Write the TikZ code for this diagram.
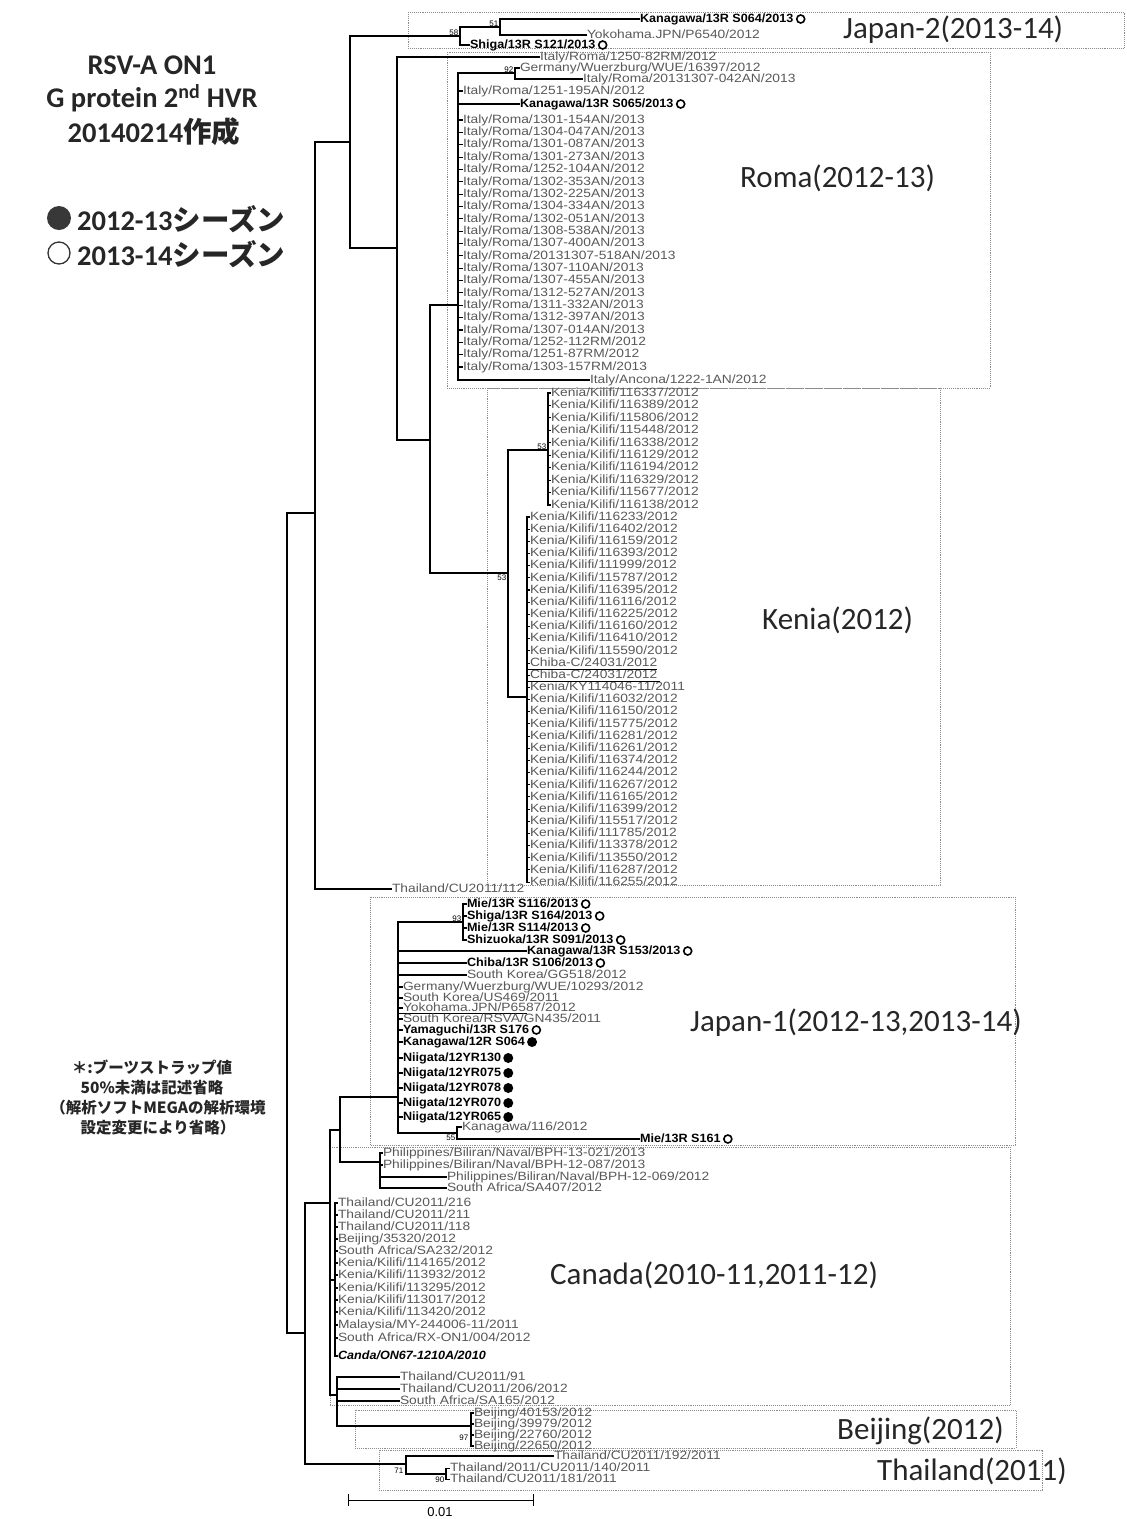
\documentclass[tikz,border=0pt]{standalone}
\usepackage{fontspec}
\setmainfont{Liberation Sans}
\newfontfamily\calfont{Carlito}
\newfontfamily\jpfont{Noto Sans CJK JP}
\newfontfamily\leaffont[FakeStretch=1.15]{Liberation Sans}
\newfontfamily\leafbfont[FakeStretch=1.05]{Liberation Sans}
\usetikzlibrary{positioning}
\tikzset{
  tree/.style={line width=1.1pt, black},
  leaf/.style={anchor=west, inner sep=0pt, outer sep=0pt, text height=8pt, text depth=1.5pt, font=\leaffont\fontsize{12}{12}\selectfont, text=black!65},
  leafb/.style={leaf, text=black, font=\leafbfont\bfseries\fontsize{12}{12}\selectfont},
  leafbi/.style={leaf, text=black, font=\leafbfont\bfseries\itshape\fontsize{12}{12}\selectfont},
  oc/.style={circle, draw=black, line width=1.6pt, minimum size=8pt, inner sep=0pt},
  fc/.style={circle, fill=black, minimum size=10pt, inner sep=0pt},
  clade/.style={draw=black!45, line width=0.9pt, densely dotted},
  cladelbl/.style={anchor=west, inner sep=0pt, font=\calfont\fontsize{31}{33}\selectfont, text=black!85},
  boot/.style={inner sep=0.5pt, font=\fontsize{8}{9}\selectfont, text=black},
  ttl/.style={inner sep=0pt, font=\calfont\bfseries\fontsize{28.5}{30}\selectfont, text=black!85},
  note/.style={inner sep=0pt, font=\jpfont\bfseries\fontsize{15.5}{17}\selectfont, text=black!85},
}
\newcommand\br[6][leaf]{\node[#1] (#3) at (#4,#5) {#6}; \draw[tree] (#2) |- (#3.west);}
\newcommand\inn[4]{\coordinate (#2) at (#3,#4); \draw[tree] (#1) |- (#2);}
\newcommand\mO[1]{\node[oc, right=2.5pt of #1] (#1o) {};}
\newcommand\mF[1]{\node[fc, right=2pt of #1] (#1f) {};}
\begin{document}
\begin{tikzpicture}[x=1pt,y=-1pt]
\useasboundingbox[fill=white] (0,0) rectangle (1127,1519);
% ---- clade boxes
\draw[clade] (408,12) rectangle (1124,48);
\draw[clade] (447,52) rectangle (990,388);
\draw[clade] (487,388) rectangle (940,885);
\draw[clade] (370,897) rectangle (1015,1145);
\draw[clade] (330,1147) rectangle (1010,1405);
\draw[clade] (355,1410) rectangle (1016,1448);
\draw[clade] (379,1450) rectangle (1042,1490);
\node[cladelbl] (lJ2) at (843,30) {Japan-2(2013-14)};
\node[cladelbl] (lRo) at (740,178) {Roma(2012-13)};
\node[cladelbl] (lKe) at (762,620) {Kenia(2012)};
\node[cladelbl] (lJ1) at (690,1023) {Japan-1(2012-13,2013-14)};
\node[cladelbl] (lCa) at (550,1275) {Canada(2010-11,2011-12)};
\node[cladelbl] (lBe) at (837,1431) {Beijing(2012)};
\node[cladelbl] (lTh) at (877,1471) {Thailand(2011)};
% ---- title and legend
\node[ttl] (t1) at (152,65) {RSV-A ON1};
\node[ttl] (t2) at (152,98) {G protein 2\textsuperscript{nd} HVR};
\node[ttl] (t3) at (154,132) {20140214{\jpfont\bfseries 作成}};
\node[circle, fill=black!78, minimum size=24pt, inner sep=0pt] (lg1) at (59,218) {};
\node[ttl, anchor=west] (lg1t) at (77,219) {2012-13{\jpfont シーズン}};
\node[circle, draw=black!80, line width=1.3pt, minimum size=22pt, inner sep=0pt] (lg2) at (59,253) {};
\node[ttl, anchor=west] (lg2t) at (77,254) {2013-14{\jpfont シーズン}};
% ---- note
\node[note] (n1) at (152,1068) {＊:ブーツストラップ値};
\node[note] (n2) at (152,1088) {50\%未満は記述省略};
\node[note] (n3) at (158,1108) {（解析ソフトMEGAの解析環境};
\node[note] (n4) at (158,1128) {設定変更により省略）};
% ---- tree backbone
\coordinate (root) at (287,923);
\inn{root}{up}{315}{513}
\inn{root}{lowr}{305}{1333}
\inn{up}{nA}{350}{142}
\br{up}{t112}{392}{889}{Thailand/CU2011/112}
% Japan-2
\inn{nA}{j2}{460}{36}
\inn{j2}{j2b}{500}{27}
\br[leafb]{j2b}{k064}{640}{19}{Kanagawa/13R S064/2013}\mO{k064}
\br{j2b}{y6540}{587}{35}{Yokohama.JPN/P6540/2012}
\br[leafb]{j2}{s121}{470}{45}{Shiga/13R S121/2013}\mO{s121}
\node[boot, above left=0pt and 1pt of j2] (b58) {58};
\node[boot, above left=0pt and 1pt of j2b] (b51) {51};
% Roma
\inn{nA}{nB}{397}{248}
\br{nB}{r8212}{540}{57}{Italy/Roma/1250-82RM/2012}
\inn{nB}{nC}{430}{440}
\inn{nC}{roma}{458}{305}
\inn{roma}{r92}{515}{73}
\node[boot, above left=0pt and 1pt of r92] (b92) {92};
\br{r92}{ger}{520}{68}{Germany/Wuerzburg/WUE/16397/2012}
\br{r92}{r042}{583}{79}{Italy/Roma/20131307-042AN/2013}
\br{roma}{r195}{463}{91}{Italy/Roma/1251-195AN/2012}
\br[leafb]{roma}{k065}{520}{104}{Kanagawa/13R S065/2013}\mO{k065}
\foreach \t [count=\i from 0] in {1301-154AN/2013,1304-047AN/2013,1301-087AN/2013,1301-273AN/2013,1252-104AN/2012,1302-353AN/2013,1302-225AN/2013,1304-334AN/2013,1302-051AN/2013,1308-538AN/2013,1307-400AN/2013,20131307-518AN/2013,1307-110AN/2013,1307-455AN/2013,1312-527AN/2013,1311-332AN/2013,1312-397AN/2013,1307-014AN/2013,1252-112RM/2012,1251-87RM/2012,1303-157RM/2013}{
  \pgfmathsetmacro\yy{120+\i*12.35}
  \br{roma}{ro\i}{463}{\yy}{Italy/Roma/\t}
}
\br{roma}{anc}{590}{380}{Italy/Ancona/1222-1AN/2012}
% Kenia
\inn{nC}{ken}{508}{573}
\node[boot, below left=1pt and 1pt of ken] (b53a) {53};
\inn{ken}{k53}{548}{450}
\node[boot, above left=0pt and 1pt of k53] (b53b) {53};
\foreach \t [count=\i from 0] in {116337,116389,115806,115448,116338,116129,116194,116329,115677,116138}{
  \pgfmathsetmacro\yy{393+\i*12.44}
  \br{k53}{ku\i}{551}{\yy}{Kenia/Kilifi/\t/2012}
}
\inn{ken}{klow}{527}{697}
\foreach \t [count=\i from 0] in {Kenia/Kilifi/116233/2012,Kenia/Kilifi/116402/2012,Kenia/Kilifi/116159/2012,Kenia/Kilifi/116393/2012,Kenia/Kilifi/111999/2012,Kenia/Kilifi/115787/2012,Kenia/Kilifi/116395/2012,Kenia/Kilifi/116116/2012,Kenia/Kilifi/116225/2012,Kenia/Kilifi/116160/2012,Kenia/Kilifi/116410/2012,Kenia/Kilifi/115590/2012,Chiba-C/24031/2012,Chiba-C/24031/2012,Kenia/KY114046-11/2011,Kenia/Kilifi/116032/2012,Kenia/Kilifi/116150/2012,Kenia/Kilifi/115775/2012,Kenia/Kilifi/116281/2012,Kenia/Kilifi/116261/2012,Kenia/Kilifi/116374/2012,Kenia/Kilifi/116244/2012,Kenia/Kilifi/116267/2012,Kenia/Kilifi/116165/2012,Kenia/Kilifi/116399/2012,Kenia/Kilifi/115517/2012,Kenia/Kilifi/111785/2012,Kenia/Kilifi/113378/2012,Kenia/Kilifi/113550/2012,Kenia/Kilifi/116287/2012,Kenia/Kilifi/116255/2012}{
  \pgfmathsetmacro\yy{517+\i*12.17}
  \br{klow}{kl\i}{530}{\yy}{\t}
}
\draw[tree] (klow |- 0,669.5) -- (657,669.5);
\draw[tree] (klow |- 0,681.5) -- (660,681.5);
% lower half
\inn{lowr}{C}{330}{1203}
\inn{C}{P}{340}{1130}
\inn{P}{J1}{398}{1097}
\inn{J1}{j93}{463}{922}
\node[boot, above left=0pt and 1pt of j93] (b93) {93};
\br[leafb]{j93}{m116}{467}{904}{Mie/13R S116/2013}\mO{m116}
\br[leafb]{j93}{s164}{467}{916}{Shiga/13R S164/2013}\mO{s164}
\br[leafb]{j93}{m114}{467}{928}{Mie/13R S114/2013}\mO{m114}
\br[leafb]{j93}{z091}{467}{940}{Shizuoka/13R S091/2013}\mO{z091}
\br[leafb]{J1}{k153}{527}{951}{Kanagawa/13R S153/2013}\mO{k153}
\br[leafb]{J1}{c106}{467}{963}{Chiba/13R S106/2013}\mO{c106}
\br{J1}{gg518}{467}{975}{South Korea/GG518/2012}
\br{J1}{w10293}{403}{987}{Germany/Wuerzburg/WUE/10293/2012}
\br{J1}{us469}{403}{998}{South Korea/US469/2011}
\br{J1}{p6587}{403}{1008}{Yokohama.JPN/P6587/2012}
\draw[tree] (J1 |- 0,1013.5) -- (527,1013.5);
\br{J1}{gn435}{403}{1019}{South Korea/RSVA/GN435/2011}
\br[leafb]{J1}{y176}{403}{1030}{Yamaguchi/13R S176}\mO{y176}
\br[leafb]{J1}{k12}{403}{1042}{Kanagawa/12R S064}\mF{k12}
\br[leafb]{J1}{ni130}{403}{1058}{Niigata/12YR130}\mF{ni130}
\br[leafb]{J1}{ni075}{403}{1073}{Niigata/12YR075}\mF{ni075}
\br[leafb]{J1}{ni078}{403}{1088}{Niigata/12YR078}\mF{ni078}
\br[leafb]{J1}{ni070}{403}{1103}{Niigata/12YR070}\mF{ni070}
\br[leafb]{J1}{ni065}{403}{1117}{Niigata/12YR065}\mF{ni065}
\inn{J1}{jk}{457}{1133}
\node[boot, below left=1pt and 1pt of jk] (b55) {55};
\br{jk}{k116}{462}{1127}{Kanagawa/116/2012}
\br[leafb]{jk}{m161}{640}{1139}{Mie/13R S161}\mO{m161}
% Philippines
\inn{P}{ph}{380}{1162}
\br{ph}{ph1}{383}{1153}{Philippines/Biliran/Naval/BPH-13-021/2013}
\br{ph}{ph2}{383}{1165}{Philippines/Biliran/Naval/BPH-12-087/2013}
\br{ph}{ph3}{447}{1177}{Philippines/Biliran/Naval/BPH-12-069/2012}
\br{ph}{sa407}{447}{1188}{South Africa/SA407/2012}
% Canada
\inn{C}{S}{335}{1280}
\br{S}{c1}{338}{1203}{Thailand/CU2011/216}
\br{S}{c2}{338}{1215}{Thailand/CU2011/211}
\br{S}{c3}{338}{1227}{Thailand/CU2011/118}
\br{S}{c4}{338}{1239}{Beijing/35320/2012}
\br{S}{c5}{338}{1251}{South Africa/SA232/2012}
\br{S}{c6}{338}{1263}{Kenia/Kilifi/114165/2012}
\br{S}{c7}{338}{1275}{Kenia/Kilifi/113932/2012}
\br{S}{c8}{338}{1288}{Kenia/Kilifi/113295/2012}
\br{S}{c9}{338}{1300}{Kenia/Kilifi/113017/2012}
\br{S}{c10}{338}{1312}{Kenia/Kilifi/113420/2012}
\br{S}{c11}{338}{1325}{Malaysia/MY-244006-11/2011}
\br{S}{c12}{338}{1338}{South Africa/RX-ON1/004/2012}
\br[leafbi]{S}{c13}{338}{1356}{Canda/ON67-1210A/2010}
\inn{C}{T}{337}{1395}
\br{T}{c14}{400}{1377}{Thailand/CU2011/91}
\br{T}{c15}{400}{1389}{Thailand/CU2011/206/2012}
\br{T}{c16}{400}{1401}{South Africa/SA165/2012}
% Beijing
\inn{T}{bj}{471}{1426}
\node[boot, below left=8pt and 2pt of bj] (b97) {97};
\br{bj}{bj1}{474}{1413}{Beijing/40153/2012}
\br{bj}{bj2}{474}{1424}{Beijing/39979/2012}
\br{bj}{bj3}{474}{1435}{Beijing/22760/2012}
\br{bj}{bj4}{474}{1446}{Beijing/22650/2012}
% Thailand
\inn{lowr}{th}{406}{1464}
\node[boot, below left=3pt and 2pt of th] (b71) {71};
\br{th}{t192}{554}{1456}{Thailand/CU2011/192/2011}
\inn{th}{th90}{446}{1474}
\node[boot, below left=2pt and 1pt of th90] (b90) {90};
\br{th90}{t140}{450}{1468.5}{Thailand/2011/CU2011/140/2011}
\br{th90}{t181}{450}{1479.5}{Thailand/CU2011/181/2011}
% scale bar
\coordinate (sb1) at (348,1500);
\coordinate (sb2) at (533,1500);
\draw[line width=1pt] (sb1) -- (sb2);
\draw[line width=1pt] ([yshift=-6pt]sb1) -- ([yshift=6pt]sb1);
\draw[line width=1pt] ([yshift=-6pt]sb2) -- ([yshift=6pt]sb2);
\node[font=\fontsize{13}{14}\selectfont, inner sep=0pt] (sbl) at (440,1512) {0.01};
\end{tikzpicture}
\end{document}
